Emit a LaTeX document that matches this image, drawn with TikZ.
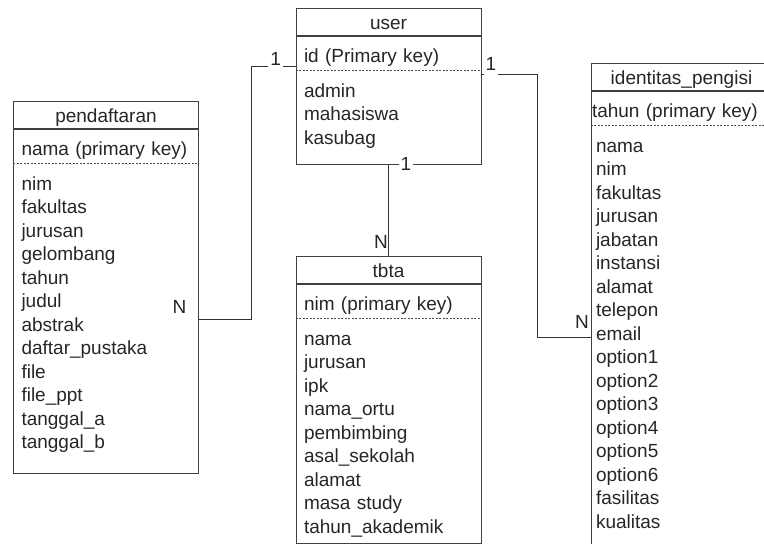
\documentclass[tikz,border=0pt]{standalone}
\usepackage{fontspec}
\newfontfamily\erfont{Liberation Sans}
\usetikzlibrary{positioning}

\tikzset{
    tablehead/.style={draw=black!75, line width=0.8pt, minimum width=185pt, minimum height=27pt,
        inner ysep=0pt, text height=21pt, text depth=6pt, anchor=north},
    tablebody/.style={draw=black!75, line width=0.8pt, minimum width=185pt, inner sep=0pt, anchor=north},
    keyrow/.style={text width=169pt, inner xsep=8pt, inner ysep=0pt, align=left,
        text height=26pt, text depth=8pt, anchor=north},
    fieldrows/.style={text width=169pt, inner xsep=8pt, inner ysep=0pt, align=left,
        text height=16pt, anchor=north},
    keyline/.style={draw=black!70, line width=0.6pt, dash pattern=on 2pt off 1.5pt},
    link/.style={draw=black!80, line width=0.8pt},
    cardone/.style={fill=white, inner xsep=2pt, inner ysep=1pt, text depth=4pt, anchor=base},
    cardmany/.style={inner sep=0pt, anchor=base}
}

\begin{document}
\begin{tikzpicture}[x=1pt, y=-1pt,
    every node/.style={font=\erfont\fontsize{19}{23.5}\selectfont, text=black!85}]
    \useasboundingbox (0,0) rectangle (764,544);
    \clip (0,0) rectangle (764,544);

    \node[tablehead] (userhead) at (388.5,8) {user};
    \node[tablebody, minimum height=128pt] (userbody) [below=0pt of userhead] {};
    \node[keyrow] (userkey) [below=0pt of userhead] {id (Primary key)};
    \draw[keyline] (userkey.south west) -- (userkey.south east);
    \node[fieldrows] (userfields) [below=11pt of userkey] {admin\\mahasiswa\\kasubag};

    \node[tablehead] (pendhead) at (106,101) {pendaftaran};
    \node[tablebody, minimum height=344pt] (pendbody) [below=0pt of pendhead] {};
    \node[keyrow] (pendkey) [below=0pt of pendhead] {nama (primary key)};
    \draw[keyline] (pendkey.south west) -- (pendkey.south east);
    \node[fieldrows] (pendfields) [below=11pt of pendkey] {nim\\fakultas\\jurusan\\gelombang\\tahun\\judul\\abstrak\\daftar\_pustaka\\file\\file\_ppt\\tanggal\_a\\tanggal\_b};

    \node[tablehead] (tbtahead) at (388.5,256) {tbta};
    \node[tablebody, minimum height=259pt] (tbtabody) [below=0pt of tbtahead] {};
    \node[keyrow] (tbtakey) [below=0pt of tbtahead] {nim (primary key)};
    \draw[keyline] (tbtakey.south west) -- (tbtakey.south east);
    \node[fieldrows] (tbtafields) [below=11pt of tbtakey] {nama\\jurusan\\ipk\\nama\_ortu\\pembimbing\\asal\_sekolah\\alamat\\masa study\\tahun\_akademik};

    \node[tablehead, minimum width=181pt] (idhead) at (681.5,63) {identitas\_pengisi};
    \node[tablebody, minimum width=181pt, minimum height=470pt] (idbody) [below=0pt of idhead] {};
    \node[keyrow, text width=179pt, inner xsep=1pt] (idkey) [below=0pt of idhead] {tahun (primary key)};
    \draw[keyline] (idkey.south west) -- (idkey.south east);
    \node[fieldrows, text width=171pt, inner xsep=5pt] (idfields) [below=11pt of idkey] {nama\\nim\\fakultas\\jurusan\\jabatan\\instansi\\alamat\\telepon\\email\\option1\\option2\\option3\\option4\\option5\\option6\\fasilitas\\kualitas};

    \draw[link] ([yshift=-18pt]pendbody.east) -- ++(52,0) |- ([yshift=34pt]userbody.west);
    \draw[link] ([yshift=26pt]userbody.east) -- ++(56,0) |- ([yshift=-11pt]idbody.west);
    \draw[link] (userbody.south) -- (tbtahead.north);

    \node[cardone] (oneleft) at ([shift={(-20pt,35pt)}]userbody.west) {1};
    \node[cardone] (oneright) at ([shift={(9.5pt,30pt)}]userbody.east) {1};
    \node[cardone] (onebottom) at ([shift={(17.5pt,-6pt)}]userbody.south) {1};
    \node[cardmany] (manypend) at ([shift={(-19.5pt,-12pt)}]pendbody.east) {N};
    \node[cardmany] (manytbta) at ([shift={(-7.5pt,8pt)}]tbtahead.north) {N};
    \node[cardmany] (manyid) at ([shift={(-8.5pt,-2pt)}]idbody.west) {N};
\end{tikzpicture}
\end{document}
